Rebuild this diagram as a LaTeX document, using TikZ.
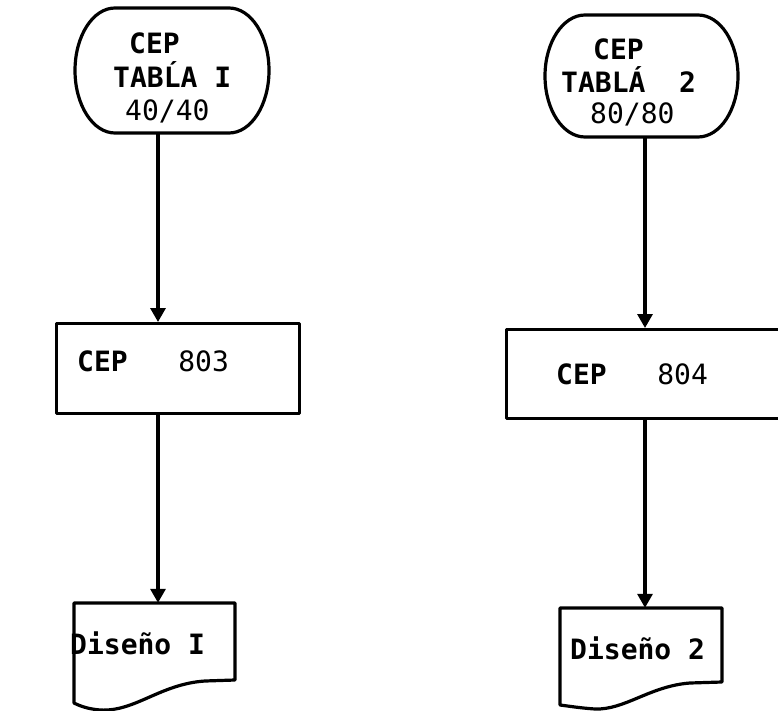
\documentclass[tikz,border=0pt]{standalone}
\usepackage{fontspec}
\setmonofont{DejaVu Sans Mono}
\usetikzlibrary{arrows.meta,calc}
\begin{document}
\begin{tikzpicture}[x=1pt,y=-1pt,
  outl/.style={line width=3.2pt,line join=round},
  arr/.style={line width=3.2pt,-{Triangle[width=15pt,length=14pt]}},
  lbl/.style={font=\ttfamily\fontsize{28}{28}\selectfont,inner sep=0pt,anchor=base west},
  holder/.style={draw=none,inner sep=0pt},
  boxst/.style={draw,outl,inner sep=0pt,anchor=north west},
]
\path[use as bounding box] (0,0) rectangle (778,711);
\clip (0,0) rectangle (778,711);

% column axes
\coordinate (x1) at (158,0);
\coordinate (x2) at (645,0);

% terminals
\node[holder,minimum width=194pt,minimum height=125pt] (t1) at (172,70.5) {};
\node[holder,minimum width=193pt,minimum height=122pt] (t2) at (641.5,76) {};
\draw[outl] (115,8) -- (229,8) arc[start angle=-90,end angle=90,x radius=40,y radius=62.5]
  -- (115,133) arc[start angle=90,end angle=270,x radius=40,y radius=62.5] -- cycle;
\draw[outl] (585,15) -- (698,15) arc[start angle=-90,end angle=90,x radius=40,y radius=61]
  -- (585,137) arc[start angle=90,end angle=270,x radius=40,y radius=61] -- cycle;
\node[lbl] (t1a) at (129,54) {\bfseries CEP};
\node[lbl] (t1b) at (113,88) {\bfseries TABĹA I};
\node[lbl] (t1c) at (125,121) {40/40};
\node[lbl] (t2a) at (593,60) {\bfseries CEP};
\node[lbl] (t2b) at (561,93) {\bfseries TABLÁ~~2};
\node[lbl] (t2c) at (590,124) {80/80};

% process boxes
\node[boxst,minimum width=243pt,minimum height=90pt] (b1) at (55,322) {};
\node[boxst,minimum width=300pt,minimum height=89pt] (b2) at (505,328) {};
\node[lbl] (b1t) at (77,371) {\bfseries CEP~~~\mdseries 803};
\node[lbl] (b2t) at (556,384) {\bfseries CEP~~~\mdseries 804};

% documents
\node[holder,minimum width=161pt,minimum height=107pt] (d1) at (154.5,656.5) {};
\node[holder,minimum width=162pt,minimum height=101pt] (d2) at (641,658.5) {};
\draw[outl] (74,603) -- (235,603) -- (235,680) -- (205,681)
  .. controls (160,684) and (135,712) .. (100,710)
  .. controls (88,709) and (80,706) .. (74,703) -- cycle;
\draw[outl] (560,608) -- (722,608) -- (722,682) -- (690,683)
  .. controls (650,686) and (625,710) .. (595,709)
  .. controls (580,708) and (568,706) .. (560,705) -- cycle;
\node[lbl] (d1t) at (70,654) {\bfseries Diseño I};
\node[lbl] (d2t) at (570,659) {\bfseries Diseño 2};

% connectors
\draw[arr] (t1.south -| x1) -- (b1.north -| x1);
\draw[arr] (b1.south -| x1) -- (d1.north -| x1);
\draw[arr] (t2.south -| x2) -- (b2.north -| x2);
\draw[arr] (b2.south -| x2) -- (d2.north -| x2);
\end{tikzpicture}
\end{document}
